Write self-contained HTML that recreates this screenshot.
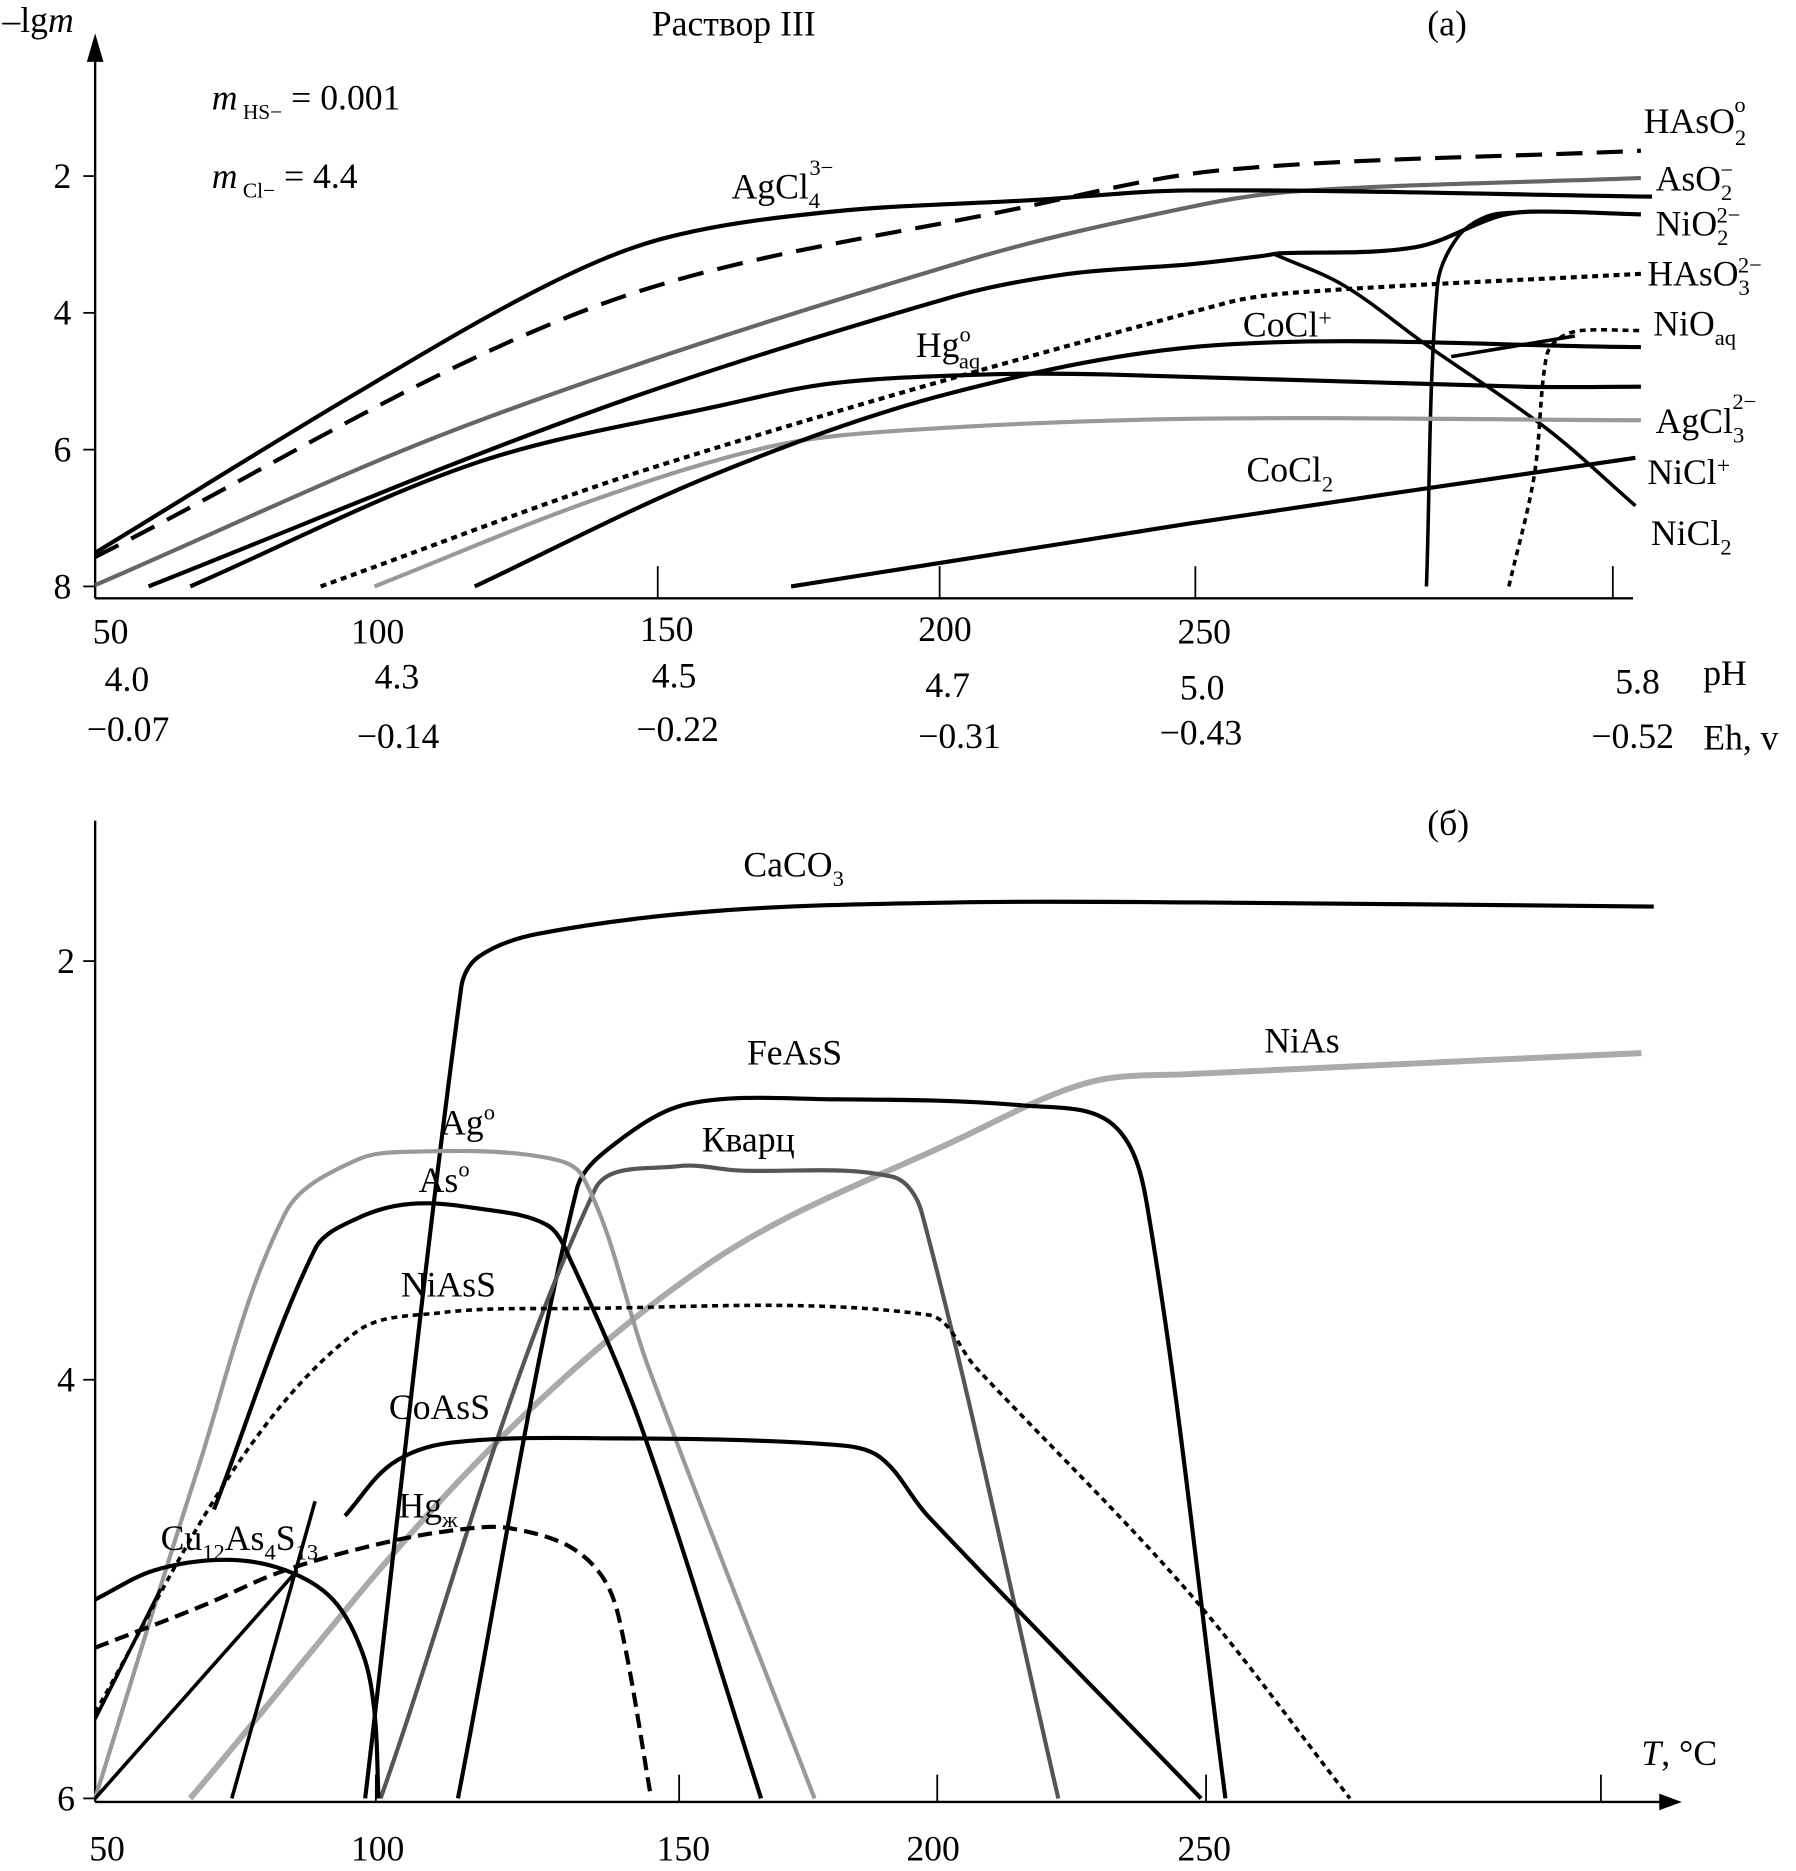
<!DOCTYPE html>
<html><head><meta charset="utf-8"><style>
html,body{margin:0;padding:0;background:#fff}
svg{display:block}
text{font-family:"Liberation Serif",serif;fill:#000}
</style></head><body>
<svg id="chart" width="1796" height="1871" viewBox="0 0 1510 1573" xmlns="http://www.w3.org/2000/svg">
<g id="top"></g>
<g id="bot"></g>
<g font-size="30">
<text x="2" y="27">–lg<tspan font-style="italic">m</tspan></text>
<text x="548" y="30">Раствор III</text>
<text x="1200" y="30">(a)</text>
<text x="178" y="92"><tspan font-style="italic">m</tspan><tspan font-size="18" dy="8"> HS−</tspan><tspan dy="-8"> = 0.001</tspan></text>
<text x="178" y="158"><tspan font-style="italic">m</tspan><tspan font-size="18" dy="8"> Cl−</tspan><tspan dy="-8"> = 4.4</tspan></text>
<text x="615" y="167">AgCl<tspan font-size="19" dy="8">4</tspan><tspan font-size="19" dy="-28" dx="-9">3−</tspan></text>
<text x="770" y="300">Hg<tspan font-size="19" dy="-13">o</tspan><tspan font-size="19" dy="23" dx="-10">aq</tspan></text>
<text x="1045" y="283">CoCl<tspan font-size="20" dy="-9">+</tspan></text>
<text x="1048" y="405">CoCl<tspan font-size="19" dy="8">2</tspan></text>
<text x="1382" y="112">HAsO<tspan font-size="19" dy="10">2</tspan><tspan font-size="19" dy="-28" dx="-10">o</tspan></text>
<text x="1392" y="160">AsO<tspan font-size="19" dy="8">2</tspan><tspan font-size="19" dy="-19" dx="-10">−</tspan></text>
<text x="1392" y="198">NiO<tspan font-size="19" dy="8">2</tspan><tspan font-size="19" dy="-19" dx="-10">2−</tspan></text>
<text x="1385" y="240">HAsO<tspan font-size="19" dy="8">3</tspan><tspan font-size="19" dy="-19" dx="-10">2−</tspan></text>
<text x="1390" y="282">NiO<tspan font-size="19" dy="8">aq</tspan></text>
<text x="1392" y="364">AgCl<tspan font-size="19" dy="8">3</tspan><tspan font-size="19" dy="-28" dx="-10">2−</tspan></text>
<text x="1385" y="407">NiCl<tspan font-size="20" dy="-9">+</tspan></text>
<text x="1388" y="458">NiCl<tspan font-size="19" dy="8">2</tspan></text>
<text x="1432" y="576">pH</text>
<text x="1432" y="630">Eh, v</text>
</g>
<g font-size="30">
<text x="1200" y="702">(б)</text>
<text x="625" y="737">CaCO<tspan font-size="19" dy="8">3</tspan></text>
<text x="628" y="895">FeAsS</text>
<text x="1063" y="885">NiAs</text>
<text x="370" y="954">Ag<tspan font-size="19" dy="-13">o</tspan></text>
<text x="590" y="968">Кварц</text>
<text x="352" y="1002">As<tspan font-size="19" dy="-13">o</tspan></text>
<text x="337" y="1090">NiAsS</text>
<text x="327" y="1193">CoAsS</text>
<text x="335" y="1276">Hg<tspan font-size="19" dy="8">ж</tspan></text>
<text x="135" y="1303">Cu<tspan font-size="19" dy="8">12</tspan><tspan dy="-8">As</tspan><tspan font-size="19" dy="8">4</tspan><tspan dy="-8">S</tspan><tspan font-size="19" dy="8">13</tspan></text>
<text x="1380" y="1484"><tspan font-style="italic">T</tspan>, °C</text>
</g>
</svg>
<script>
// ---------- data (T in °C, value in -lg m) ----------
const yTicksA = [2,4,6,8];
const tLabelsA = ["50","100","150","200","250"];
const phLabels = ["4.0","4.3","4.5","4.7","5.0","5.8"];
const ehLabels = ["−0.07","−0.14","−0.22","−0.31","−0.43","−0.52"];
const yTicksB = [2,4,6];
const tLabelsB = ["50","100","150","200","250"];

const agcl4T=[50,97.6,132,153.8,184,220.8,249,333], agcl4V=[7.51,5.17,3.6,2.9,2.52,2.35,2.21,2.3];
const haso2T=[50,140.8,220.8,255.4,331], haso2V=[7.57,3.91,2.42,1.91,1.63];
const aso2T=[50,119,207.8,251,270.5,331], aso2V=[7.98,5.6,3.25,2.42,2.21,2.03];
const mainT=[59.7,140.8,205.7,227,249,262,265], mainV=[8,5.43,3.77,3.43,3.29,3.17,3.13];
const nio2T=[265,290,305,311.6,331], nio2V=[3.13,3.04,2.59,2.52,2.56];
const nicl2T=[264,277,292,313.8,330], nicl2V=[3.13,3.6,4.47,5.69,6.82];
const steepT=[292,294,297.6,303,309.5], steepV=[8,3.6,2.9,2.59,2.52];
const hgaqT=[67.3,119,164.6,184,212,233.8,309.5,331], hgaqV=[8,6.2,5.34,5.03,4.9,4.9,5.08,5.08];
const haso3T=[91,153.8,255.4,270.5,331], haso3V=[8,6.2,3.86,3.69,3.43];
const agcl3T=[100.8,140.8,173,196.8,249,331], agcl3V=[8,6.73,5.95,5.72,5.55,5.57];
const coclT=[119,162,205.7,254.3,331], coclV=[8,6.38,5.17,4.47,4.5];
const nioT=[307,311.6,313.8,316,320,331], nioV=[8,6.38,4.64,4.38,4.26,4.26];
const shortT=[296.5,319], shortV=[4.64,4.34];
const cocl2T=[176.5,249,330], cocl2V=[8,7.08,6.12];

const caco3T=[98.6,115.9,119,129.7,162,205,248.6,330.6], caco3V=[6,2.125,1.98,1.87,1.76,1.72,1.72,1.74];
const feassT=[115.3,136.7,144.2,157.1,182.8,217,233.2,239.6,253.5], feassV=[6,3.09,2.86,2.68,2.66,2.69,2.78,3.2,6];
const quartzT=[101.4,140,155,165.7,193.5,198.8,223.4], quartzV=[6,3.09,2.98,3.0,3.03,3.2,6];
const agT=[50,68.2,84.3,97.1,107.8,129.2,137.8,149.6,179.5], agV=[6,4.45,3.2,2.95,2.91,2.93,3.03,3.94,6];
const asT=[71.4,89.6,97.1,106.7,118.5,131.3,135.6,148.4,169.9], asV=[4.62,3.375,3.23,3.16,3.18,3.26,3.43,4.23,6];
const niassT=[50,75.7,97.1,112.1,131.4,199.9,208.5,247,275.9], niassV=[5.59,4.4,3.77,3.68,3.66,3.69,3.94,5.02,6];
const coassT=[95,103.5,114.2,144.2,182.8,191.3,199.9,249.1], coassV=[4.65,4.4,4.3,4.28,4.31,4.37,4.65,6];
const hgT=[50,69.3,84.2,103.5,117.4,124.9,135.6,142,145.2,150.1], hgV=[5.28,5.08,4.91,4.77,4.71,4.71,4.8,4.97,5.25,6];
const cuT=[50,60.7,73.6,84.3,92.8,98.2,100.3,101], cuV=[5.05,4.91,4.86,4.91,5.05,5.31,5.59,6];
const shortBT=[50,61.8], shortBV=[5.62,5.0];
const lineAT=[50,86.4], lineAV=[6,4.91];
const lineBT=[74.6,89.6], lineBV=[6,4.58];
const niasT=[67.1,118.5,161.3,206.3,228.8,247,328.4], niasV=[6,4.4,3.43,2.84,2.58,2.54,2.44];

// ---------- scales ----------
const xA=t=>80+(t-50)*4.625, yA=v=>148+(v-2)*57.5;
const xB=t=>80+(t-50)*4.67,  yB=v=>808+(v-2)*176;
const NS="http://www.w3.org/2000/svg";
function mk(parent,tag,attrs){const e=document.createElementNS(NS,tag);for(const k in attrs)e.setAttribute(k,attrs[k]);parent.appendChild(e);return e;}
function unit(a,b){const dx=b[0]-a[0],dy=b[1]-a[1],l=Math.hypot(dx,dy)||1;return [dx/l,dy/l];}
function series(parent,T,V,xs,ys,stroke,w,dash,name){
  const P=T.map((t,i)=>[xs(t),ys(V[i])]);
  const f=v=>v.toFixed(1);
  let d="M"+f(P[0][0])+","+f(P[0][1]);
  for(let i=0;i<P.length-1;i++){
    const p0=P[Math.max(0,i-1)],p1=P[i],p2=P[i+1],p3=P[Math.min(P.length-1,i+2)];
    const L=Math.hypot(p2[0]-p1[0],p2[1]-p1[1])/3;
    const u1=unit(p0,p2),u2=unit(p1,p3);
    const c1=[p1[0]+u1[0]*L,p1[1]+u1[1]*L], c2=[p2[0]-u2[0]*L,p2[1]-u2[1]*L];
    d+="C"+f(c1[0])+","+f(c1[1])+" "+f(c2[0])+","+f(c2[1])+" "+f(p2[0])+","+f(p2[1]);
  }
  const p=mk(parent,"path",{d:d,fill:"none",stroke:stroke,"stroke-width":w,"stroke-linejoin":"round"});
  if(dash)p.setAttribute("stroke-dasharray",dash);
  
  
}
const A=document.getElementById("top"), B=document.getElementById("bot");
// axes A
let ax=mk(A,"path",{d:"M80,503V45M80,503H1373",stroke:"#000","stroke-width":2,fill:"none"});

let arr=mk(A,"path",{d:"M73,52L80,28L87,52Z",fill:"#000"});

[553,790,1005,1356].forEach(x=>{const t=mk(A,"line",{x1:x,y1:503,x2:x,y2:476,stroke:"#000","stroke-width":1.5});
});
yTicksA.forEach(v=>{const l=mk(A,"line",{x1:70,y1:yA(v),x2:80,y2:yA(v),stroke:"#000","stroke-width":1.5});

const t=mk(A,"text",{x:45,y:yA(v)+10,"font-size":30});t.textContent=v;
});
const tPosA=[[78,541],[295,541],[538,539],[772,539],[990,541]];
tLabelsA.forEach((s,i)=>{const t=mk(A,"text",{x:tPosA[i][0],y:tPosA[i][1],"font-size":30});t.textContent=s;
});
const phPos=[[88,581],[315,579],[548,578],[778,586],[992,588],[1358,583]];
phLabels.forEach((s,i)=>{const t=mk(A,"text",{x:phPos[i][0],y:phPos[i][1],"font-size":30});t.textContent=s;
});
const ehPos=[[73,623],[300,629],[535,623],[772,629],[975,626],[1338,629]];
ehLabels.forEach((s,i)=>{const t=mk(A,"text",{x:ehPos[i][0],y:ehPos[i][1],"font-size":30});t.textContent=s;
});
// series A
series(A,haso2T,haso2V,xA,yA,"#000",3.5,"22,12","line-haso2");
series(A,aso2T,aso2V,xA,yA,"#666",3.5,null,"line-aso2");
series(A,agcl4T,agcl4V,xA,yA,"#000",3.5,null,"line-agcl4");
series(A,mainT,mainV,xA,yA,"#000",3.5,null,"line-nio2-lower");
series(A,nio2T,nio2V,xA,yA,"#000",3.5,null,"line-nio2");
series(A,nicl2T,nicl2V,xA,yA,"#000",3,null,"line-nicl2");
series(A,steepT,steepV,xA,yA,"#000",3,null,"line-nio2-steep");
series(A,hgaqT,hgaqV,xA,yA,"#000",3.5,null,"line-hg-aq");
series(A,haso3T,haso3V,xA,yA,"#000",3.5,"5,4","line-haso3");
series(A,agcl3T,agcl3V,xA,yA,"#999",3.5,null,"line-agcl3");
series(A,coclT,coclV,xA,yA,"#000",3.5,null,"line-cocl-plus");
series(A,nioT,nioV,xA,yA,"#000",3,"5,4","line-nio-aq");
series(A,shortT,shortV,xA,yA,"#000",3,null,"line-nicl-plus-short");
series(A,cocl2T,cocl2V,xA,yA,"#000",3.5,null,"line-cocl2");
// axes B
ax=mk(B,"path",{d:"M80,1515V690M80,1515H1400",stroke:"#000","stroke-width":2,fill:"none"});

arr=mk(B,"path",{d:"M1395,1508L1414,1515L1395,1522Z",fill:"#000"});

[316,571,788,1014,1346].forEach(x=>{const t=mk(B,"line",{x1:x,y1:1515,x2:x,y2:1492,stroke:"#000","stroke-width":1.5});
});
yTicksB.forEach(v=>{const l=mk(B,"line",{x1:70,y1:yB(v),x2:80,y2:yB(v),stroke:"#000","stroke-width":1.5});

const t=mk(B,"text",{x:48,y:yB(v)+10,"font-size":30});t.textContent=v;
});
const tPosB=[[75,1564],[295,1564],[552,1564],[762,1564],[990,1564]];
tLabelsB.forEach((s,i)=>{const t=mk(B,"text",{x:tPosB[i][0],y:tPosB[i][1],"font-size":30});t.textContent=s;
});
// series B
series(B,niasT,niasV,xB,yB,"#aaa",5,null,"line-nias");
series(B,caco3T,caco3V,xB,yB,"#000",3.5,null,"line-caco3");
series(B,feassT,feassV,xB,yB,"#000",3.5,null,"line-feass");
series(B,quartzT,quartzV,xB,yB,"#555",3.5,null,"line-quartz");
series(B,agT,agV,xB,yB,"#999",3.5,null,"line-ag");
series(B,asT,asV,xB,yB,"#000",3.5,null,"line-as");
series(B,niassT,niassV,xB,yB,"#000",3,"5,4","line-niass");
series(B,coassT,coassV,xB,yB,"#000",3.5,null,"line-coass");
series(B,hgT,hgV,xB,yB,"#000",3.5,"12,6","line-hg-liquid");
series(B,cuT,cuV,xB,yB,"#000",3.5,null,"line-tennantite");
series(B,shortBT,shortBV,xB,yB,"#000",3,null,"line-short-b");
series(B,lineAT,lineAV,xB,yB,"#000",3,null,"line-diag-a");
series(B,lineBT,lineBV,xB,yB,"#000",3,null,"line-diag-b");
</script>
</body></html>
